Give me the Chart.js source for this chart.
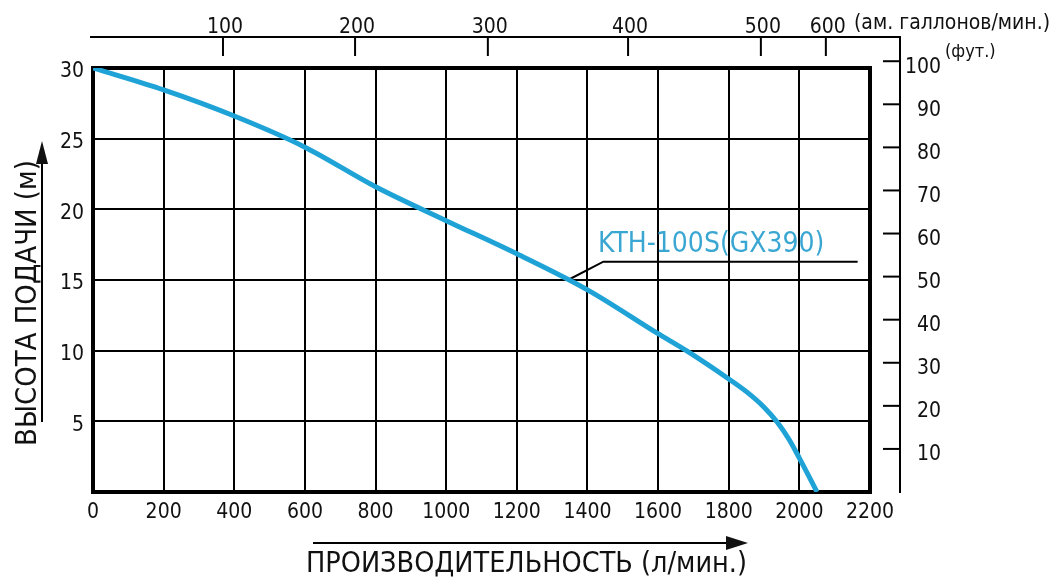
<!DOCTYPE html>
<html>
<head>
<meta charset="utf-8">
<script src="https://cdn.jsdelivr.net/npm/chart.js@4.4.1/dist/chart.umd.min.js"></script>
<style>
  html, body { margin: 0; padding: 0; background: #fff; }
  #wrap { width: 1058px; height: 578px; }
</style>
</head>
<body>
<div id="wrap"><canvas id="pumpChart" width="1058" height="578"></canvas></div>
<script>
// performance curve
const flowLpm = [0, 200, 400, 600, 800, 1000, 1200, 1400, 1600, 1680, 1800, 1850, 1900, 1937, 1970, 2000, 2050];
const headM   = [30, 28.45, 26.6, 24.4, 21.6, 19.2, 16.85, 14.3, 11.2, 10, 8.0, 7.1, 6.0, 4.95, 3.75, 2.4, 0];

const modelName = 'KTH-100S(GX390)';
const pointerLpm = [1345, 1445, 2165];
const pointerM   = [15, 16.3, 16.3];

// secondary scales
const ftTicks = [10, 20, 30, 40, 50, 60, 70, 80, 90, 100];
const galTicks = [100, 200, 300, 400, 500, 600];
const galTickAtLpm = [368, 742, 1118, 1515, 1891, 2075];

const FONT = "'Liberation Sans Narrow', 'DejaVu Sans Condensed', 'Roboto', sans-serif";
const BLUE = '#1fa3d7';

const curve = flowLpm.map((x, i) => ({ x, y: headM[i] }));
const pointer = pointerLpm.map((x, i) => ({ x, y: pointerM[i] }));

const extras = {
  id: 'extras',
  beforeDatasetsDraw(chart) {
    const { ctx, chartArea: a } = chart;
    ctx.save();
    ctx.strokeStyle = '#000';
    ctx.lineWidth = 4;
    ctx.strokeRect(a.left, a.top, a.right - a.left, a.bottom - a.top);
    ctx.restore();
  },
  afterDraw(chart) {
    const { ctx, chartArea: a, scales } = chart;
    const x = scales.x, ft = scales.yFt;
    const topY = a.top - 31;
    const rightX = a.right + 30;
    ctx.save();
    ctx.strokeStyle = '#000';
    ctx.fillStyle = '#111';
    ctx.lineWidth = 2;

    // top axis (US gallons per minute)
    ctx.beginPath();
    ctx.moveTo(a.left - 3, topY);
    ctx.lineTo(rightX + 1, topY);
    ctx.stroke();
    ctx.font = '21px ' + FONT;
    ctx.textAlign = 'center';
    ctx.textBaseline = 'alphabetic';
    galTicks.forEach((g, i) => {
      const px = x.getPixelForValue(galTickAtLpm[i]);
      ctx.beginPath();
      ctx.moveTo(px, topY);
      ctx.lineTo(px, topY + 19);
      ctx.stroke();
      ctx.fillText(String(g), px + 2, topY - 4);
    });
    ctx.font = '21px ' + FONT;
    ctx.textAlign = 'left';
    ctx.fillText('(ам. галлонов/мин.)', 854, 29);

    // right axis (feet)
    ctx.beginPath();
    ctx.moveTo(rightX, topY - 1);
    ctx.lineTo(rightX, a.bottom + 1);
    ctx.stroke();
    ctx.font = '21px ' + FONT;
    ctx.textAlign = 'right';
    ctx.textBaseline = 'middle';
    ftTicks.forEach(v => {
      const py = ft.getPixelForValue(v);
      ctx.beginPath();
      ctx.moveTo(rightX - 17, py);
      ctx.lineTo(rightX, py);
      ctx.stroke();
      ctx.fillText(String(v), rightX + 41, py + 6);
    });
    ctx.font = '18px ' + FONT;
    ctx.textAlign = 'left';
    ctx.fillText('(фут.)', rightX + 45, ft.getPixelForValue(100) - 9);

    // axis titles with arrows
    ctx.font = '28.5px ' + FONT;
    ctx.textBaseline = 'alphabetic';
    ctx.fillText('ПРОИЗВОДИТЕЛЬНОСТЬ (л/мин.)', 306, 572);
    ctx.lineWidth = 2;
    ctx.beginPath();
    ctx.moveTo(313, 543);
    ctx.lineTo(730, 543);
    ctx.stroke();
    ctx.beginPath();
    ctx.moveTo(748, 543);
    ctx.lineTo(726, 536);
    ctx.lineTo(726, 550);
    ctx.closePath();
    ctx.fill();

    ctx.save();
    ctx.translate(36, 446);
    ctx.rotate(-Math.PI / 2);
    ctx.font = '29px ' + FONT;
    ctx.fillText('ВЫСОТА ПОДАЧИ (м)', 0, 0);
    ctx.restore();
    ctx.beginPath();
    ctx.moveTo(42, 422);
    ctx.lineTo(42, 160);
    ctx.stroke();
    ctx.beginPath();
    ctx.moveTo(42, 141);
    ctx.lineTo(36, 164);
    ctx.lineTo(48, 164);
    ctx.closePath();
    ctx.fill();

    // model label
    ctx.fillStyle = '#3aa7d3';
    ctx.font = '28px ' + FONT;
    ctx.textAlign = 'left';
    ctx.fillText(modelName, x.getPixelForValue(1430), scales.y.getPixelForValue(16.95));
    ctx.restore();
  }
};

new Chart(document.getElementById('pumpChart'), {
  type: 'line',
  data: {
    datasets: [
      {
        data: curve,
        borderColor: BLUE,
        borderWidth: 5,
        pointRadius: 0,
        cubicInterpolationMode: 'monotone',
        fill: false
      },
      {
        data: pointer,
        borderColor: '#000',
        borderWidth: 2,
        pointRadius: 0,
        tension: 0,
        fill: false
      }
    ]
  },
  options: {
    responsive: false,
    animation: false,
    layout: { padding: { left: 0, right: 188, top: 68, bottom: 0 } },
    plugins: { legend: { display: false }, tooltip: { enabled: false } },
    scales: {
      x: {
        type: 'linear',
        min: 0,
        max: 2200,
        ticks: {
          stepSize: 200,
          color: '#111',
          font: { family: FONT, size: 21 },
          padding: 8,
          maxRotation: 0,
          callback: v => String(v)
        },
        grid: { color: '#000', lineWidth: 2, drawTicks: false },
        border: { display: false },
        afterFit: s => { s.height = 86; }
      },
      y: {
        min: 0,
        max: 30,
        ticks: {
          stepSize: 5,
          color: '#111',
          font: { family: FONT, size: 21 },
          padding: 9,
          labelOffset: 4,
          callback: v => (v === 0 ? '' : String(v))
        },
        grid: { color: '#000', lineWidth: 2, drawTicks: false },
        border: { display: false },
        afterFit: s => { s.width = 93; }
      },
      yFt: {
        display: false,
        position: 'right',
        min: 0,
        max: 30 / 0.3048
      }
    }
  },
  plugins: [extras]
});
</script>
</body>
</html>
